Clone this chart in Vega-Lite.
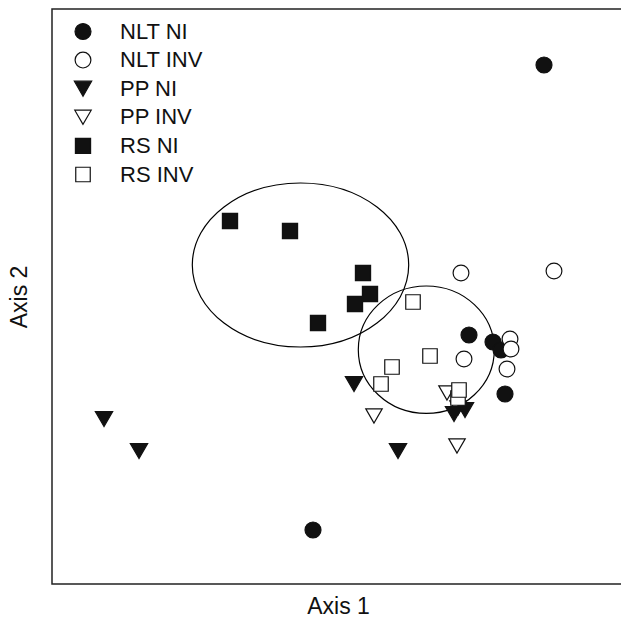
{
  "$schema": "https://vega.github.io/schema/vega-lite/v6.json",
  "width": 572,
  "height": 575,
  "autosize": "none",
  "padding": {"left": 52, "top": 9, "right": 0, "bottom": 35},
  "background": "white",
  "config": {
    "view": {"stroke": "#222", "strokeWidth": 1.5},
    "font": "Liberation Sans"
  },
  "datasets": {
    "pts": [
      {"group": "NLT NI", "a1": 4.92, "a2": 5.19},
      {"group": "NLT NI", "a1": 4.17, "a2": 2.49},
      {"group": "NLT NI", "a1": 4.41, "a2": 2.42},
      {"group": "NLT NI", "a1": 4.49, "a2": 2.34},
      {"group": "NLT NI", "a1": 4.53, "a2": 1.9},
      {"group": "NLT NI", "a1": 2.61, "a2": 0.54},
      {"group": "NLT INV", "a1": 4.09, "a2": 3.11},
      {"group": "NLT INV", "a1": 5.02, "a2": 3.13},
      {"group": "NLT INV", "a1": 4.58, "a2": 2.45},
      {"group": "NLT INV", "a1": 4.59, "a2": 2.35},
      {"group": "NLT INV", "a1": 4.12, "a2": 2.25},
      {"group": "NLT INV", "a1": 4.55, "a2": 2.15},
      {"group": "PP INV", "a1": 3.22, "a2": 1.68},
      {"group": "PP INV", "a1": 3.95, "a2": 1.91},
      {"group": "PP INV", "a1": 4.05, "a2": 1.38},
      {"group": "PP INV", "a1": 4.06, "a2": 1.76},
      {"group": "PP NI", "a1": 0.52, "a2": 1.65},
      {"group": "PP NI", "a1": 0.87, "a2": 1.33},
      {"group": "PP NI", "a1": 3.02, "a2": 2.0},
      {"group": "PP NI", "a1": 3.46, "a2": 1.33},
      {"group": "PP NI", "a1": 4.02, "a2": 1.7},
      {"group": "PP NI", "a1": 4.13, "a2": 1.74},
      {"group": "RS NI", "a1": 1.78, "a2": 3.63},
      {"group": "RS NI", "a1": 2.38, "a2": 3.53},
      {"group": "RS NI", "a1": 3.11, "a2": 3.11},
      {"group": "RS NI", "a1": 3.18, "a2": 2.9},
      {"group": "RS NI", "a1": 3.03, "a2": 2.8},
      {"group": "RS NI", "a1": 2.66, "a2": 2.61},
      {"group": "RS INV", "a1": 3.61, "a2": 2.82},
      {"group": "RS INV", "a1": 3.78, "a2": 2.28},
      {"group": "RS INV", "a1": 3.4, "a2": 2.17},
      {"group": "RS INV", "a1": 3.29, "a2": 2.0},
      {"group": "RS INV", "a1": 4.06, "a2": 1.86},
      {"group": "RS INV", "a1": 4.07, "a2": 1.94}
    ],
    "ell": [
      {"id": "RS NI", "a1": 2.485, "a2": 3.19},
      {"id": "RS INV", "a1": 3.743, "a2": 2.343}
    ]
  },
  "encoding": {
    "x": {
      "field": "a1", "type": "quantitative",
      "scale": {"domain": [0, 5.72], "nice": false, "zero": false},
      "axis": {"title": "Axis 1", "labels": false, "ticks": false, "domain": false, "grid": false, "titleFontSize": 23, "titleFontWeight": "normal", "titleColor": "#111", "titlePadding": 11}
    },
    "y": {
      "field": "a2", "type": "quantitative",
      "scale": {"domain": [0, 5.75], "nice": false, "zero": false},
      "axis": {"title": "Axis 2", "labels": false, "ticks": false, "domain": false, "grid": false, "titleFontSize": 23, "titleFontWeight": "normal", "titleColor": "#111", "titlePadding": 21}
    }
  },
  "layer": [
    {
      "data": {"name": "ell"},
      "transform": [{"filter": "datum.id === 'RS NI'"}],
      "mark": {
        "type": "point",
        "filled": false,
        "stroke": "#000",
        "strokeWidth": 1.2,
        "opacity": 1,
        "size": 46829,
        "shape": "M 1 0 C 1 0.4186 0.5523 0.758 0 0.758 C -0.5523 0.758 -1 0.4186 -1 0 C -1 -0.4186 -0.5523 -0.758 0 -0.758 C 0.5523 -0.758 1 -0.4186 1 0 Z"
      }
    },
    {
      "data": {"name": "ell"},
      "transform": [{"filter": "datum.id === 'RS INV'"}],
      "mark": {
        "type": "point",
        "filled": false,
        "stroke": "#000",
        "strokeWidth": 1.2,
        "opacity": 1,
        "size": 18496,
        "shape": "M 1 0 C 1 0.5175 0.5523 0.937 0 0.937 C -0.5523 0.937 -1 0.5175 -1 0 C -1 -0.5175 -0.5523 -0.937 0 -0.937 C 0.5523 -0.937 1 -0.5175 1 0 Z"
      }
    },
    {
      "data": {"name": "pts"},
      "mark": {"type": "point", "filled": true, "stroke": "#111", "strokeWidth": 1.2, "opacity": 1},
      "encoding": {
        "shape": {
          "field": "group", "type": "nominal",
          "scale": {"domain": ["NLT NI", "NLT INV", "PP NI", "PP INV", "RS NI", "RS INV"], "range": ["circle", "circle", "triangle-down", "triangle-down", "square", "square"]},
          "legend": {
            "title": null, "orient": "none", "legendX": 20, "legendY": 11.5, "padding": 0,
            "labelFontSize": 22, "labelColor": "#111", "labelOffset": 26, "rowPadding": 6.6,
            "symbolStrokeColor": "#111", "symbolStrokeWidth": 1.2, "symbolOpacity": 1
          }
        },
        "fill": {
          "field": "group", "type": "nominal",
          "scale": {"domain": ["NLT NI", "NLT INV", "PP NI", "PP INV", "RS NI", "RS INV"], "range": ["#111", "white", "#111", "white", "#111", "white"]}
        },
        "size": {
          "field": "group", "type": "nominal",
          "scale": {"type": "ordinal", "domain": ["NLT NI", "NLT INV", "PP NI", "PP INV", "RS NI", "RS INV"], "range": [255, 250, 300, 270, 230, 210]}
        }
      }
    }
  ]
}
